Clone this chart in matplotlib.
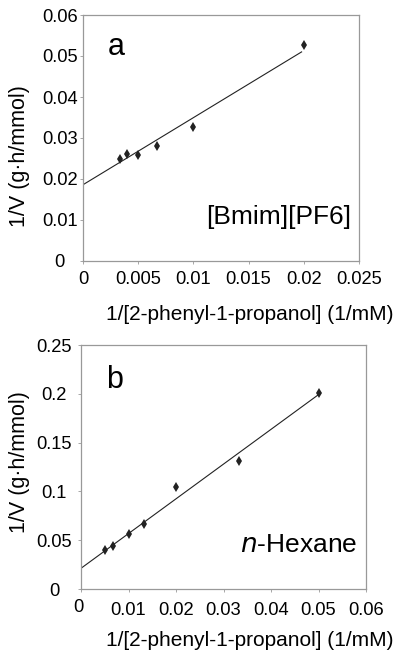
import matplotlib
matplotlib.use("Agg")
import matplotlib.pyplot as plt
import matplotlib.transforms as mtransforms

plt.rcParams['font.family'] = ['Liberation Sans', 'DejaVu Sans']

# panel a: [Bmim][PF6]
a_x = [0.00333, 0.004, 0.005, 0.00667, 0.01, 0.02]
a_y = [0.0248, 0.0261, 0.0259, 0.0280, 0.0328, 0.0527]
a_fit_x = [0.0, 0.0198]
a_fit_y = [0.0186, 0.0510]
a_xticks = [0, 0.005, 0.01, 0.015, 0.02, 0.025]
a_xlabels = ['0', '0.005', '0.01', '0.015', '0.02', '0.025']
a_yticks = [0, 0.01, 0.02, 0.03, 0.04, 0.05, 0.06]
a_ylabels = ['0', '0.01', '0.02', '0.03', '0.04', '0.05', '0.06']

# panel b: n-Hexane
b_x = [0.005, 0.00667, 0.01, 0.01333, 0.02, 0.0333, 0.05]
b_y = [0.0400, 0.0441, 0.0560, 0.0669, 0.1042, 0.1315, 0.2011]
b_fit_x = [0.0, 0.0499]
b_fit_y = [0.0212, 0.1988]
b_xticks = [0, 0.01, 0.02, 0.03, 0.04, 0.05, 0.06]
b_xlabels = ['0', '0.01', '0.02', '0.03', '0.04', '0.05', '0.06']
b_yticks = [0, 0.05, 0.1, 0.15, 0.2, 0.25]
b_ylabels = ['0', '0.05', '0.1', '0.15', '0.2', '0.25']

W, H = 395, 651
fig = plt.figure(figsize=(W / 100, H / 100), dpi=100)


def panel(box, x, y, fx, fy, xt, xl, yt, yl, letter, solvent,
          xlab_y, ylab_y, xpad, ypad, let_y):
    l, t, r, b = box
    ax = fig.add_axes([l / W, 1 - b / H, (r - l) / W, (b - t) / H])
    ax.plot(fx, fy, color='#222222', lw=0.8)
    ax.plot(x, y, 'd', color='#222222', ms=5, mew=0)
    ax.set_xlim(xt[0], xt[-1])
    ax.set_ylim(yt[0], yt[-1])
    ax.set_xticks(xt)
    ax.set_xticklabels(xl)
    ax.set_yticks(yt)
    ax.set_yticklabels(yl, ha='center')
    ax.tick_params(labelsize=13.2, length=2, width=0.6, color='#999999')
    ax.tick_params(axis='x', pad=xpad)
    ax.tick_params(axis='y', pad=ypad)
    for s in ax.spines.values():
        s.set_color('#999999')
        s.set_linewidth(0.9)
    fig.text(393 / W, 1 - xlab_y / H, '1/[2-phenyl-1-propanol] (1/mM)',
             fontsize=15, ha='right', va='center')
    fig.text(20 / W, 1 - ylab_y / H, '1/V (g\u00b7h/mmol)', fontsize=15.5,
             rotation=90, ha='center', va='center')
    ax.text(0.088, let_y, letter, transform=ax.transAxes, fontsize=22, va='baseline')
    ax.text(0.97, 0.18, solvent, transform=ax.transAxes, fontsize=19, ha='right', va='center')
    return ax


panel((83, 15, 359, 261), a_x, a_y, a_fit_x, a_fit_y, a_xticks, a_xlabels,
      a_yticks, a_ylabels, 'a', '[Bmim][PF6]', 315, 156, 5, 14.8, 0.837)
axb = panel((81, 345, 366, 589), b_x, b_y, b_fit_x, b_fit_y, b_xticks, b_xlabels,
            b_yticks, b_ylabels, 'b', '$\\it{n}$-Hexane', 640, 462, 7.2, 17.3, 0.824)

# the "0" on the lower x axis sits a little higher and to the left
zero = axb.get_xticklabels()[0]
zero.set_transform(zero.get_transform() +
                   mtransforms.ScaledTranslation(-3 / 100, 3 / 100, fig.dpi_scale_trans))

fig.savefig('out.png', dpi=100)
plt.close()
